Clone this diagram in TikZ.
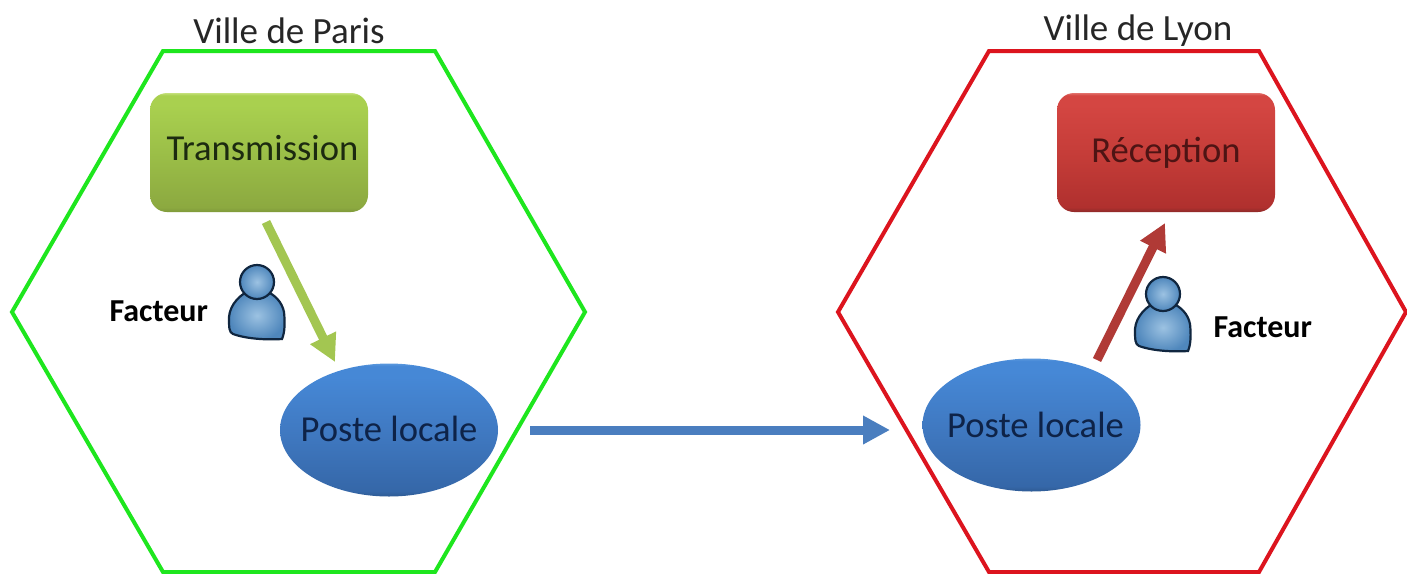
\documentclass[tikz,border=0pt]{standalone}
\usepackage{fontspec}
\setmainfont{Carlito}
\usetikzlibrary{arrows.meta,shapes.geometric}
\definecolor{hexgreen}{HTML}{1EE61E}
\definecolor{hexred}{HTML}{DC141E}
\definecolor{arrgreen}{HTML}{A3C651}
\definecolor{arrred}{HTML}{B03A36}
\definecolor{arrblue}{HTML}{4A7EBF}
\definecolor{persline}{HTML}{10263F}
\definecolor{persin}{HTML}{9CC2E2}
\definecolor{persout}{HTML}{4F87BC}
\definecolor{gtext}{HTML}{1C2A10}
\definecolor{rtext}{HTML}{4E1414}
\definecolor{btext}{HTML}{0E2348}
\definecolor{ga}{HTML}{7F9A3A}\definecolor{gb}{HTML}{8CA940}\definecolor{gc}{HTML}{9ABD47}\definecolor{gd}{HTML}{A9D04F}\definecolor{ge}{HTML}{C4E07A}
\definecolor{ra}{HTML}{8E2A28}\definecolor{rb}{HTML}{B0302E}\definecolor{rc}{HTML}{C43C38}\definecolor{rd}{HTML}{D44642}\definecolor{re}{HTML}{E2706A}
\definecolor{ba}{HTML}{2E5A94}\definecolor{bb}{HTML}{3567A8}\definecolor{bc}{HTML}{3F78C0}\definecolor{bd}{HTML}{4688D6}\definecolor{be}{HTML}{5A98DE}
\pgfdeclareverticalshading{gfill}{100bp}{color(0bp)=(ga); color(25bp)=(ga); color(27bp)=(gb); color(48bp)=(gc); color(70bp)=(gd); color(74bp)=(gd); color(75bp)=(ge); color(100bp)=(ge)}
\pgfdeclareverticalshading{rfill}{100bp}{color(0bp)=(ra); color(25bp)=(ra); color(27bp)=(rb); color(48bp)=(rc); color(70bp)=(rd); color(74bp)=(rd); color(75bp)=(re); color(100bp)=(re)}
\pgfdeclareverticalshading{bfill}{100bp}{color(0bp)=(ba); color(25bp)=(ba); color(27bp)=(bb); color(48bp)=(bc); color(70bp)=(bd); color(74bp)=(bd); color(75bp)=(be); color(100bp)=(be)}
\begin{document}
\begin{tikzpicture}[x=1pt,y=-1pt,
  hexa/.style={line width=4pt,line join=miter,fill=none},
  boxbase/.style={rounded corners=17pt,minimum width=218pt,minimum height=119pt,inner sep=0pt,font=\fontsize{36.6}{40}\selectfont},
  gbox/.style={boxbase,shading=gfill,text=gtext},
  rbox/.style={boxbase,shading=rfill,text=rtext},
  oval/.style={ellipse,minimum width=218pt,minimum height=133pt,inner xsep=-17pt,inner ysep=0pt,shading=bfill,font=\fontsize{36.6}{40}\selectfont,text=btext},
  title/.style={font=\fontsize{37}{40}\selectfont,text=black!85},
  who/.style={font=\bfseries\fontsize{32}{36}\selectfont,text=black},
  flow/.style={line width=9pt,-{Triangle[length=27pt,width=27pt]}},
  person/.pic={
    \path[draw=persline,line width=2.2pt,inner color=persin,outer color=persout]
      (-8,9) .. controls (-16,12) and (-27,22) .. (-28,35)
      .. controls (-28,46) and (-28,50) .. (-24,52)
      .. controls (-10,57) and (10,58) .. (25,57)
      .. controls (28,50) and (28,40) .. (27,30)
      .. controls (25,20) and (18,13) .. (9,9) -- cycle;
    \path[draw=persline,line width=2.2pt,inner color=persin,outer color=persout] (0,0) circle (17);
  }]
\useasboundingbox (0,0) rectangle (1407,573);
\fill[white] (0,0) rectangle (1407,573);

% hexagons
\draw[hexa,hexgreen] (12,312)--(163,51)--(435,51)--(585,312)--(435,572)--(163,572)--cycle;
\draw[hexa,hexred] (838,312)--(989,51)--(1259,51)--(1406,312)--(1259,572)--(989,572)--cycle;

% titles
\node[title] (tparis) at (289,31) {Ville de Paris};
\node[title] (tlyon) at (1138,31) {Ville de Lyon};

% box and oval shapes
\node[gbox] (trans) at (259,152.5) {\hspace{7pt}\raisebox{9pt}{Transmission}};
\node[rbox] (recep) at (1166,152.5) {\raisebox{6pt}{Réception}};
\node[oval] (pl) at (389,430) {\raisebox{2pt}{Poste locale}};
\node[oval] (pr) at (1031.5,425) {\hspace{8pt}\raisebox{1pt}{Poste locale}};

% persons
\pic at (257,282) {person};
\pic at (1163,294) {person};
\node[who,anchor=west] (f1) at (106,311) {Facteur};
\node[who,anchor=west] (f2) at (1210,327) {Facteur};

% connector ends
\coordinate (a1) at (266,222);
\coordinate (a2) at (335,362);
\coordinate (b1) at (1097,360);
\coordinate (b2) at (1165,223);
\coordinate (c1) at (530,430);
\coordinate (c2) at (890,430);
\draw[flow,arrgreen] (a1) -- (a2);
\draw[flow,arrred] (b1) -- (b2);
\draw[flow,arrblue] (c1) -- (c2);
\end{tikzpicture}
\end{document}
